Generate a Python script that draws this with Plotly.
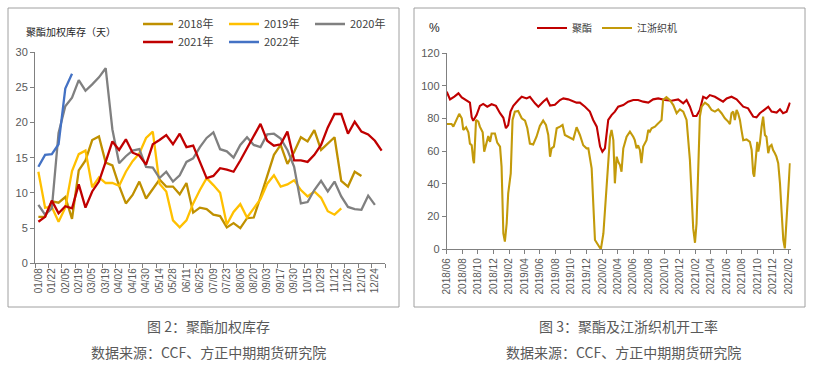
import plotly.graph_objects as go

W, H = 819, 369

# ---------------- Figure 2: weighted polyester inventory (days) ----------------
weeks = ["01/08", "01/15", "01/22", "01/29", "02/05", "02/12", "02/19", "02/26",
         "03/05", "03/12", "03/19", "03/26", "04/02", "04/09", "04/16", "04/23",
         "04/30", "05/07", "05/14", "05/21", "05/28", "06/04", "06/11", "06/18",
         "06/25", "07/02", "07/09", "07/16", "07/23", "07/30", "08/06", "08/13",
         "08/20", "08/27", "09/03", "09/10", "09/17", "09/24", "09/30", "10/08",
         "10/15", "10/22", "10/29", "11/05", "11/12", "11/19", "11/26", "12/03",
         "12/10", "12/17", "12/24", "12/31"]

inv_2018 = [6.6, 6.6, 8.8, 8.6, 9.4, 6.3, 13.2, 14.6, 17.5, 18.0, 14.3, 13.9, 11.0,
            8.5, 9.7, 11.6, 9.2, 10.5, 11.9, 10.9, 10.9, 9.8, 11.4, 7.2, 7.9, 7.7,
            6.9, 6.7, 5.1, 5.7, 5.0, 6.4, 6.5, 9.4, 12.5, 15.4, 16.8, 14.1, 15.8,
            17.9, 17.3, 18.9, 16.1, 17.0, 17.9, 11.7, 10.9, 13.0, 12.4]
inv_2019 = [13.0, 7.9, 8.0, 5.9, 7.9, 13.1, 15.5, 16.0, 10.8, 12.2, 11.4, 11.4, 11.0,
            13.0, 14.5, 15.6, 17.8, 18.7, 11.3, 10.2, 6.1, 5.1, 6.1, 8.5, 10.4, 12.1,
            11.1, 10.0, 5.5, 7.3, 8.4, 6.5, 7.8, 9.1, 11.3, 12.5, 10.9, 11.2, 11.8,
            10.4, 9.5, 10.2, 9.3, 7.4, 6.9, 7.8]
inv_2020 = [8.3, 6.9, 7.8, 18.5, 22.3, 23.5, 26.0, 24.5, 25.4, 26.4, 27.7, 19.0, 14.2,
            15.2, 16.0, 16.2, 13.7, 13.6, 12.1, 13.0, 11.6, 12.5, 14.4, 14.9, 16.5,
            17.8, 18.6, 16.2, 15.9, 15.0, 16.8, 17.9, 16.8, 16.5, 18.3, 18.4, 17.7,
            16.1, 13.7, 8.5, 8.7, 10.4, 11.7, 10.2, 11.6, 9.5, 8.0, 7.7, 7.6, 9.6, 8.3]
inv_2021 = [5.9, 6.6, 8.9, 7.1, 8.1, 7.8, 11.2, 7.9, 10.2, 11.6, 14.4, 17.3, 16.1,
            17.6, 15.7, 15.3, 14.0, 16.9, 17.5, 18.2, 16.9, 18.4, 16.5, 16.7, 14.4,
            12.1, 12.4, 13.5, 13.3, 13.0, 14.6, 16.3, 18.0, 19.8, 17.4, 16.7, 16.9,
            18.7, 14.6, 14.6, 14.4, 15.4, 16.8, 19.3, 21.2, 21.2, 18.4, 20.1, 18.7,
            18.3, 17.4, 16.0]
inv_2022 = [13.7, 15.4, 15.5, 16.9, 24.8, 26.9]

inv_series = [("2018年", inv_2018, "#BF9000"), ("2019年", inv_2019, "#FFC000"),
              ("2020年", inv_2020, "#808080"), ("2021年", inv_2021, "#C00000"),
              ("2022年", inv_2022, "#4472C4")]
inv_legend = ["legend", "legend", "legend", "legend2", "legend2"]

# ---------------- Figure 3: operating rates (%) ----------------
polyester_dates = [
    "2018-06-01", "2018-06-14", "2018-07-01", "2018-07-17", "2018-07-30", "2018-08-18",
    "2018-08-31", "2018-09-07", "2018-09-13", "2018-09-26", "2018-10-09", "2018-10-22",
    "2018-11-07", "2018-11-24", "2018-12-11", "2018-12-27", "2019-01-09", "2019-01-19",
    "2019-01-28", "2019-02-06", "2019-02-17", "2019-03-09", "2019-03-22", "2019-04-10",
    "2019-04-23", "2019-05-13", "2019-05-26", "2019-06-14", "2019-06-28", "2019-07-11",
    "2019-07-30", "2019-08-19", "2019-09-01", "2019-09-20", "2019-10-10", "2019-10-23",
    "2019-11-05", "2019-11-25", "2019-12-14", "2019-12-27", "2020-01-10", "2020-01-23",
    "2020-02-01", "2020-02-11", "2020-02-24", "2020-03-08", "2020-03-21", "2020-04-03",
    "2020-04-23", "2020-05-12", "2020-06-01", "2020-06-20", "2020-07-10", "2020-07-30",
    "2020-08-18", "2020-09-07", "2020-10-03", "2020-10-29", "2020-11-24", "2020-12-14",
    "2020-12-27", "2021-01-09", "2021-01-22", "2021-02-04", "2021-02-17", "2021-03-02",
    "2021-03-15", "2021-03-28", "2021-04-17", "2021-05-07", "2021-05-19", "2021-06-02",
    "2021-06-21", "2021-07-11", "2021-07-24", "2021-08-06", "2021-08-25", "2021-09-14",
    "2021-09-27", "2021-10-10", "2021-10-30", "2021-11-12", "2021-11-25", "2021-12-15",
    "2021-12-28", "2022-01-09", "2022-01-23", "2022-02-05"]
polyester_rate = [
    96.5, 91.8, 93.5, 95.5, 93.0, 91.4, 89.8, 80.8, 78.7, 82.2, 87.8, 89.0,
    87.3, 88.8, 87.8, 83.3, 80.5, 74.1, 76.1, 84.3, 87.8, 91.4, 93.4, 92.4,
    93.4, 89.4, 87.3, 90.4, 92.2, 88.0, 88.5, 91.4, 92.4, 91.8, 90.6, 89.8,
    89.8, 87.3, 84.3, 79.2, 75.1, 62.9, 59.8, 61.8, 79.2, 82.2, 84.3, 87.3,
    88.3, 90.4, 91.4, 91.4, 90.4, 89.8, 91.8, 92.4, 91.4, 91.0, 91.8, 89.4,
    91.4, 87.3, 81.6, 81.6, 85.3, 93.4, 92.4, 94.4, 93.4, 91.4, 90.4, 92.4,
    93.4, 91.8, 89.4, 87.3, 86.3, 81.2, 80.8, 83.3, 85.7, 87.3, 84.3, 83.7,
    85.7, 83.3, 84.3, 89.8]

weaving_dates = [
    "2018-06-01", "2018-06-20", "2018-06-27", "2018-07-07", "2018-07-20", "2018-07-30",
    "2018-08-05", "2018-08-16", "2018-08-25", "2018-08-31", "2018-09-07", "2018-09-13",
    "2018-09-16", "2018-09-24", "2018-10-03", "2018-10-09", "2018-10-20", "2018-10-26",
    "2018-11-05", "2018-11-11", "2018-11-18", "2018-11-24", "2018-12-07", "2018-12-16",
    "2018-12-27", "2019-01-02", "2019-01-09", "2019-01-15", "2019-01-22", "2019-01-28",
    "2019-02-07", "2019-02-14", "2019-02-23", "2019-03-08", "2019-03-22", "2019-04-04",
    "2019-04-13", "2019-04-23", "2019-05-06", "2019-05-19", "2019-06-01", "2019-06-14",
    "2019-06-25", "2019-07-04", "2019-07-11", "2019-07-17", "2019-07-26", "2019-08-06",
    "2019-08-19", "2019-08-29", "2019-09-07", "2019-09-27", "2019-10-10", "2019-10-23",
    "2019-11-05", "2019-11-18", "2019-12-01", "2019-12-08", "2019-12-21", "2020-01-03",
    "2020-01-16", "2020-01-26", "2020-02-05", "2020-02-18", "2020-03-02", "2020-03-08",
    "2020-03-15", "2020-03-21", "2020-03-28", "2020-04-03", "2020-04-10", "2020-04-16",
    "2020-04-23", "2020-05-06", "2020-05-19", "2020-06-01", "2020-06-07", "2020-06-14",
    "2020-06-20", "2020-06-27", "2020-07-03", "2020-07-10", "2020-07-23", "2020-07-30",
    "2020-08-05", "2020-08-12", "2020-08-25", "2020-09-07", "2020-09-20", "2020-09-26",
    "2020-10-09", "2020-10-22", "2020-11-05", "2020-11-18", "2020-12-01", "2020-12-14",
    "2020-12-27", "2021-01-09", "2021-01-22", "2021-01-29", "2021-02-04", "2021-02-11",
    "2021-02-17", "2021-02-24", "2021-03-09", "2021-03-22", "2021-04-04", "2021-04-17",
    "2021-04-30", "2021-05-13", "2021-05-26", "2021-06-08", "2021-06-15", "2021-06-21",
    "2021-06-28", "2021-07-04", "2021-07-11", "2021-07-17", "2021-07-24", "2021-07-30",
    "2021-08-06", "2021-08-19", "2021-09-01", "2021-09-08", "2021-09-14", "2021-09-18",
    "2021-09-25", "2021-09-30", "2021-10-04", "2021-10-10", "2021-10-17", "2021-10-23",
    "2021-10-30", "2021-11-05", "2021-11-12", "2021-11-18", "2021-11-25", "2021-12-01",
    "2021-12-08", "2021-12-14", "2021-12-21", "2021-12-28", "2022-01-03", "2022-01-10",
    "2022-01-16", "2022-01-23", "2022-01-29", "2022-02-05"]
weaving_rate = [
    76.7, 76.7, 75.1, 78.8, 82.9, 80.2, 73.1, 74.7, 71.7, 64.7, 63.7, 54.7,
    52.7, 79.2, 78.2, 75.1, 71.7, 59.8, 66.8, 69.3, 65.8, 70.9, 70.9, 65.3,
    62.9, 50.6, 9.7, 4.7, 15.8, 34.3, 46.5, 79.2, 84.3, 84.7, 80.2, 78.8,
    74.1, 64.7, 64.2, 68.9, 75.5, 78.8, 76.1, 70.0, 56.7, 61.8, 62.9, 74.1,
    75.1, 76.1, 70.0, 68.6, 67.3, 74.7, 70.0, 63.7, 61.8, 61.8, 49.6, 5.7,
    2.6, 0.0, 9.7, 40.4, 68.9, 73.1, 66.8, 40.4, 56.7, 53.6, 51.6, 47.5,
    61.8, 68.9, 72.0, 68.9, 66.8, 61.8, 63.7, 60.8, 52.7, 62.9, 66.8, 73.1,
    72.0, 74.1, 75.1, 77.1, 79.2, 91.4, 93.1, 91.4, 88.3, 83.3, 85.7, 84.3,
    79.2, 54.7, 12.8, 4.0, 15.8, 50.6, 81.2, 87.3, 89.8, 88.3, 85.3, 84.3,
    85.7, 83.3, 80.2, 78.2, 76.7, 83.3, 84.3, 79.2, 85.3, 83.3, 79.2, 73.1,
    66.8, 67.3, 65.8, 60.8, 46.5, 44.5, 60.8, 65.8, 59.8, 64.7, 75.1, 81.2,
    70.0, 68.9, 58.8, 62.9, 63.9, 60.8, 58.8, 56.7, 52.7, 40.4, 24.1, 5.7,
    0.6, 17.9, 36.3, 52.7]

# ---------------- build figure ----------------
def px_x(p):
    return p / W

def px_y(p):
    return 1 - p / H

fig = go.Figure()

for (name, vals, color), lg in zip(inv_series, inv_legend):
    fig.add_trace(go.Scatter(
        x=weeks[:len(vals)], y=vals, mode="lines", name=name,
        line=dict(color=color, width=2.3), xaxis="x", yaxis="y", legend=lg))

fig.add_trace(go.Scatter(x=polyester_dates, y=polyester_rate, mode="lines", name="聚酯",
                         line=dict(color="#C00000", width=2.1), xaxis="x2", yaxis="y2",
                         legend="legend3"))
fig.add_trace(go.Scatter(x=weaving_dates, y=weaving_rate, mode="lines", name="江浙织机",
                         line=dict(color="#C39A0A", width=2.1), xaxis="x2", yaxis="y2",
                         legend="legend3"))

tick_font = dict(family="Liberation Sans Narrow, Liberation Sans, Arial", size=10, color="#595959")
axis_common = dict(showgrid=False, zeroline=False, showline=True, linecolor="#808080",
                   linewidth=1, ticks="outside", ticklen=4, tickcolor="#808080",
                   tickfont=tick_font, automargin=False)

legend_common = dict(orientation="h", xanchor="left", yanchor="middle",
                     bgcolor="rgba(0,0,0,0)", borderwidth=0,
                     font=dict(family="Liberation Sans Narrow, Noto Sans CJK SC", size=11,
                               color="#404040"),
                     itemwidth=30, tracegroupgap=0)

cap_font = dict(family="Noto Sans CJK SC", size=14, color="#595959")

fig.update_layout(
    width=W, height=H, margin=dict(l=0, r=0, t=0, b=0, autoexpand=False),
    paper_bgcolor="white", plot_bgcolor="white",
    xaxis=dict(axis_common, type="category", domain=[px_x(35), px_x(385)],
               range=[-0.5, len(weeks) - 0.5], tickmode="linear", tick0=0, dtick=2,
               tickson="boundaries", tickangle=-90, anchor="y"),
    yaxis=dict(axis_common, domain=[px_y(263.3), px_y(52)], range=[0, 30],
               dtick=5, tickfont=dict(tick_font, size=11), anchor="x"),
    xaxis2=dict(axis_common, type="date", domain=[px_x(446.7), px_x(790.7)],
                range=["2018-06-01", "2022-02-08"], tick0="2018-06-01", dtick="M2",
                tickformat="%Y/%m", tickangle=-90, anchor="y2"),
    yaxis2=dict(axis_common, domain=[px_y(249.3), px_y(53.3)], range=[0, 120],
                dtick=20, tickfont=dict(tick_font, size=11), anchor="x2"),
    legend=dict(legend_common, x=px_x(138), y=px_y(24), entrywidth=41),
    legend2=dict(legend_common, x=px_x(138), y=px_y(42), entrywidth=41),
    legend3=dict(legend_common, x=px_x(532), y=px_y(28),
                 font=dict(family="Noto Sans CJK SC", size=10, color="#404040")),
    showlegend=True,
    hovermode=False,
    shapes=[
        dict(type="rect", xref="paper", yref="paper", x0=px_x(8), x1=px_x(399),
             y0=px_y(307), y1=px_y(8), line=dict(color="#A0A0A0", width=1)),
        dict(type="rect", xref="paper", yref="paper", x0=px_x(414), x1=px_x(805),
             y0=px_y(307), y1=px_y(8), line=dict(color="#A0A0A0", width=1)),
    ],
    annotations=[
        dict(text="聚酯加权库存（天）", xref="paper", yref="paper", x=px_x(24), y=px_y(31),
             xanchor="left", yanchor="middle", showarrow=False,
             font=dict(family="Noto Sans CJK SC", size=10, color="#262626")),
        dict(text="%", xref="paper", yref="paper", x=px_x(434), y=px_y(28),
             xanchor="center", yanchor="middle", showarrow=False,
             font=dict(family="Liberation Sans", size=12, color="#262626")),
        dict(text="图 2：聚酯加权库存", xref="paper", yref="paper", x=px_x(209), y=px_y(326),
             xanchor="center", yanchor="middle", showarrow=False, font=cap_font),
        dict(text="数据来源：CCF、方正中期期货研究院", xref="paper", yref="paper",
             x=px_x(209), y=px_y(352), xanchor="center", yanchor="middle",
             showarrow=False, font=cap_font),
        dict(text="图 3：聚酯及江浙织机开工率", xref="paper", yref="paper", x=px_x(628),
             y=px_y(326), xanchor="center", yanchor="middle", showarrow=False, font=cap_font),
        dict(text="数据来源：CCF、方正中期期货研究院", xref="paper", yref="paper",
             x=px_x(623), y=px_y(352), xanchor="center", yanchor="middle",
             showarrow=False, font=cap_font),
    ],
)

fig.write_html("out.html", config={"displayModeBar": False, "staticPlot": False},
               post_script="document.body.style.margin='0px';document.body.style.overflow='hidden';")
